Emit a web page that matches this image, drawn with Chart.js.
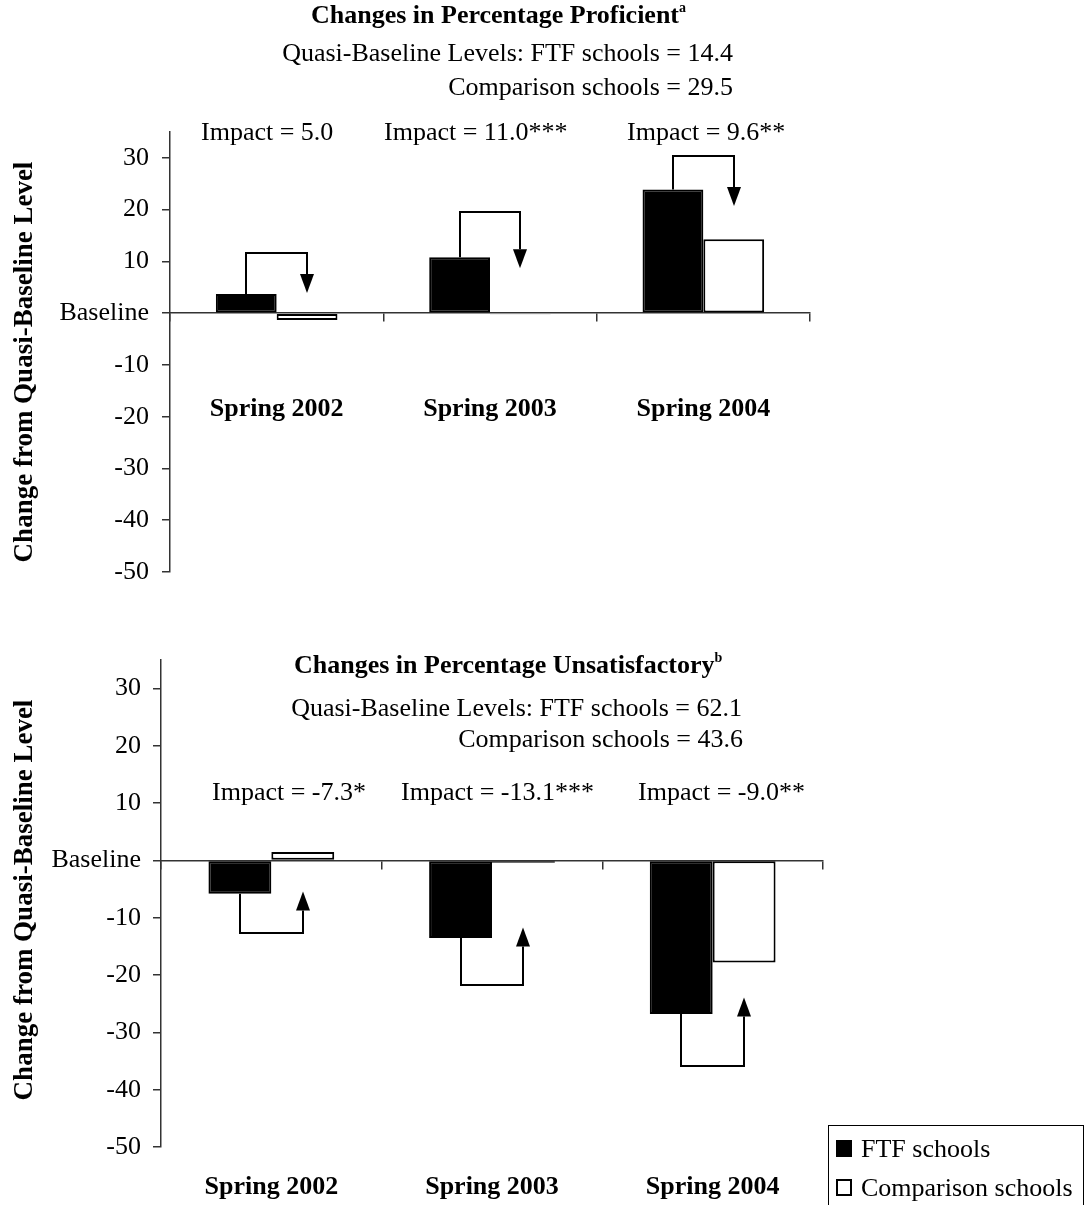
<!DOCTYPE html>
<html>
<head>
<meta charset="utf-8">
<script src="https://cdn.jsdelivr.net/npm/chart.js@4.4.1/dist/chart.umd.min.js"></script>
<style>
  body { margin: 0; background: #fff; }
  #page { position: relative; width: 1086px; height: 1205px; overflow: hidden; background: #fff;
          font-family: "Liberation Serif", "Times New Roman", serif; color: #000; }
  canvas { position: absolute; left: 0; }
  .txt { position: absolute; white-space: nowrap; font-size: 26px; line-height: 26px; }
  .b { font-weight: bold; }
  .txt sup { font-size: 14px; line-height: 0; vertical-align: 11px; }
  .ytitle { position: absolute; white-space: nowrap; font-weight: bold; font-size: 27px; line-height: 27px;
            transform: translate(-50%, -50%) rotate(-90deg); }
  #legend { position: absolute; left: 828px; top: 1125px; width: 256px; height: 82px;
            border: 1px solid #000; box-sizing: border-box; }
  .item { position: absolute; left: 7px; white-space: nowrap; font-size: 26px; line-height: 26px; }
  .swatch { position: absolute; left: 0; top: 4px; width: 16px; height: 17px; box-sizing: border-box; border: 2px solid #000; }
  .item span.lab { margin-left: 25px; }
</style>
</head>
<body>
<div id="page">
  <canvas id="top" width="1086" height="620" style="top:0"></canvas>
  <canvas id="bottom" width="1086" height="585" style="top:620px"></canvas>
  <div id="labels"></div>
  <div id="legend"></div>
</div>
<script>
// data
const categories = ["Spring 2002", "Spring 2003", "Spring 2004"];
const seriesNames = ["FTF schools", "Comparison schools"];
const yTicks = [-50, -40, -30, -20, -10, 0, 10, 20, 30];

// proficient panel
const profFTF = [3.7, 10.8, 23.9];
const profComp = [-1.3, -0.2, 14.3];
const profImpact = ["Impact = 5.0", "Impact = 11.0***", "Impact = 9.6**"];
const profBracket = [11.7, 19.5, 30.3];
const profTip = [3.9, 8.7, 20.7];
const profBase = ["Quasi-Baseline Levels: FTF schools = 14.4", "Comparison schools = 29.5"];

// unsatisfactory panel
const unsatFTF = [-5.8, -13.5, -26.8];
const unsatComp = [1.5, -0.4, -17.8];
const unsatImpact = ["Impact = -7.3*", "Impact = -13.1***", "Impact = -9.0**"];
const unsatBracket = [-12.6, -21.8, -35.8];
const unsatTip = [-5.4, -11.7, -23.9];
const unsatBase = ["Quasi-Baseline Levels: FTF schools = 62.1", "Comparison schools = 43.6"];

const yTitle = "Change from Quasi-Baseline Level";

Chart.defaults.font.family = '"Liberation Serif", "Times New Roman", serif';
Chart.defaults.color = "#000";

// bracket + arrow from the FTF bar to the comparison bar
function arrowPlugin(bracket, tip) {
  return {
    id: "impactArrows",
    afterDatasetsDraw(chart) {
      const ctx = chart.ctx, y = chart.scales.y;
      const m0 = chart.getDatasetMeta(0), m1 = chart.getDatasetMeta(1);
      const ftf = chart.data.datasets[0].data;
      ctx.save();
      ctx.strokeStyle = "#000";
      ctx.fillStyle = "#000";
      ctx.lineWidth = 2;
      bracket.forEach((b, i) => {
        const x1 = Math.round(m0.data[i].x), x2 = Math.round(m1.data[i].x);
        const y0 = y.getPixelForValue(ftf[i]);
        const yb = Math.round(y.getPixelForValue(b));
        const yt = y.getPixelForValue(tip[i]);
        const dir = yt > yb ? 1 : -1;
        const head = 19, half = 7;
        ctx.beginPath();
        ctx.moveTo(x1, y0);
        ctx.lineTo(x1, yb);
        ctx.lineTo(x2, yb);
        ctx.lineTo(x2, yt - dir * head);
        ctx.stroke();
        ctx.beginPath();
        ctx.moveTo(x2, yt);
        ctx.lineTo(x2 - half, yt - dir * head);
        ctx.lineTo(x2 + half, yt - dir * head);
        ctx.closePath();
        ctx.fill();
      });
      ctx.restore();
    }
  };
}

function makeChart(id, ftf, comp, bracket, tip, o) {
  return new Chart(document.getElementById(id), {
    type: "bar",
    data: {
      labels: categories,
      datasets: [
        { label: seriesNames[0], data: ftf, backgroundColor: "#000", borderColor: "#000",
          borderWidth: 2, borderSkipped: false, categoryPercentage: 0.57, barPercentage: 1 },
        { label: seriesNames[1], data: comp, backgroundColor: "#fff", borderColor: "#000",
          borderWidth: 2, borderSkipped: false, categoryPercentage: 0.57, barPercentage: 1 }
      ]
    },
    options: {
      responsive: false,
      animation: false,
      events: [],
      layout: { padding: o.padding },
      plugins: { legend: { display: false }, tooltip: { enabled: false } },
      scales: {
        x: {
          position: { y: 0 },
          // labels sit far below the zero line; keep that gap out of the side padding
          afterFit: s => { s.paddingLeft = 0; s.paddingRight = 0; },
          grid: { offset: true, drawOnChartArea: false, tickLength: 8, color: "#333", lineWidth: 1.5 },
          border: { color: "#333", width: 1.5 },
          ticks: { padding: o.xPad, maxRotation: 0, autoSkip: false, color: "#000",
                   font: { size: 26, weight: "bold" } }
        },
        y: {
          min: -50,
          max: 35,
          afterBuildTicks: s => { s.ticks = yTicks.map(v => ({ value: v })); },
          afterFit: s => { s.width = o.axisX; },
          grid: { drawOnChartArea: false, tickLength: 8, color: "#333", lineWidth: 1.5 },
          border: { color: "#333", width: 1.5 },
          ticks: { padding: o.yPad, color: "#000", font: { size: 26 },
                   callback: v => (v === 0 ? "Baseline" : v) }
        }
      }
    },
    plugins: [arrowPlugin(bracket, tip)]
  });
}

makeChart("top", profFTF, profComp, profBracket, profTip,
  { padding: { left: 0, right: 276, top: 132, bottom: 48 }, xPad: 73, yPad: 13, axisX: 170 });
makeChart("bottom", unsatFTF, unsatComp, unsatBracket, unsatTip,
  { padding: { left: 0, right: 263, top: 40, bottom: 58 }, xPad: 303, yPad: 12, axisX: 161 });

// text annotations
const labels = document.getElementById("labels");
function addText(html, cls, pos) {
  const d = document.createElement("div");
  d.className = cls;
  d.innerHTML = html;
  Object.assign(d.style, pos);
  labels.appendChild(d);
  return d;
}

addText("Changes in Percentage Proficient<sup>a</sup>", "txt b", { left: "311px", top: "2px" });
addText(profBase[0], "txt", { right: "353px", top: "40px" });
addText(profBase[1], "txt", { right: "353px", top: "74px" });
[201, 384, 627].forEach((x, i) => addText(profImpact[i], "txt", { left: x + "px", top: "119px" }));

addText("Changes in Percentage Unsatisfactory<sup>b</sup>", "txt b", { left: "294px", top: "652px" });
addText(unsatBase[0], "txt", { right: "344px", top: "695px" });
addText(unsatBase[1], "txt", { right: "343px", top: "726px" });
[212, 401, 638].forEach((x, i) => addText(unsatImpact[i], "txt", { left: x + "px", top: "779px" }));

addText(yTitle, "ytitle", { left: "23px", top: "362px" });
addText(yTitle, "ytitle", { left: "23px", top: "900px" });

// legend
const legend = document.getElementById("legend");
const fills = ["#000", "#fff"];
seriesNames.forEach((name, i) => {
  const it = document.createElement("div");
  it.className = "item";
  it.style.top = (i === 0 ? 10 : 49) + "px";
  it.innerHTML = '<div class="swatch" style="background:' + fills[i] + '"></div><span class="lab">' + name + "</span>";
  legend.appendChild(it);
});
</script>
</body>
</html>
